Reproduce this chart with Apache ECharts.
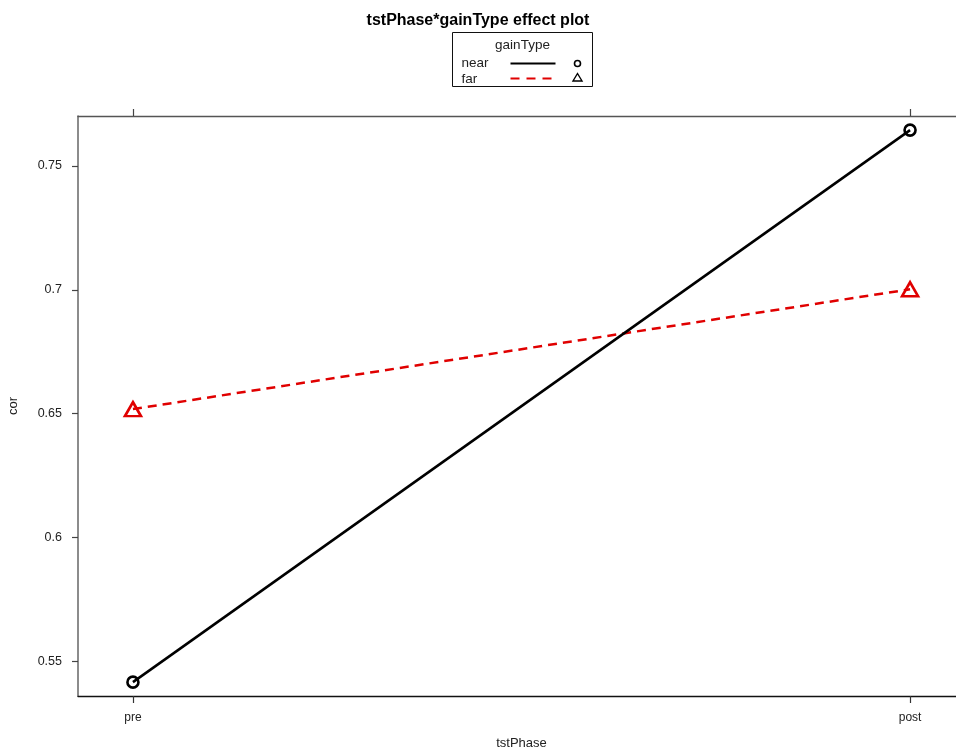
<!DOCTYPE html>
<html>
<head>
<meta charset="utf-8">
<script src="https://cdn.jsdelivr.net/npm/echarts@6/dist/echarts.min.js"></script>
<style>
  html, body { margin: 0; padding: 0; background: #fff; }
  #chart { width: 956px; height: 753px; }
</style>
</head>
<body>
<div id="chart"></div>
<script>
// Effect plot: tstPhase x gainType
const phases = ['pre', 'post'];
const gainTypes = ['near', 'far'];
const nearValues = [0.5415, 0.7645];
const farValues = [0.6518, 0.7002];
const yTicks = [0.55, 0.6, 0.65, 0.7, 0.75];

const FONT = 'Liberation Sans, Arial, Helvetica, sans-serif';
const xPos = phases.map((_, i) => i + 1);
const toPairs = vals => vals.map((v, i) => [xPos[i], v]);
const fmtY = v => String(+v.toFixed(2));

const chart = echarts.init(document.getElementById('chart'));

const xMin = 0.9293, xMax = 2.0707;

const option = {
  backgroundColor: '#fff',
  animation: false,
  title: {
    text: 'tstPhase*gainType effect plot',
    left: 'center',
    top: 8,
    textStyle: { fontFamily: FONT, fontSize: 16, fontWeight: 'bold', color: '#000' }
  },
  grid: { left: 78, right: -9, top: 116, bottom: 57, containLabel: false, outerBoundsMode: 'none' },
  xAxis: [
    {
      type: 'value',
      min: xMin, max: xMax,
      position: 'bottom',
      name: 'tstPhase',
      nameLocation: 'middle',
      nameGap: 41,
      nameTextStyle: { fontFamily: FONT, fontSize: 13, color: '#222' },
      splitLine: { show: false },
      axisLine: { show: true, lineStyle: { color: '#111', width: 1.3 } },
      axisTick: { show: true, customValues: xPos, length: 7, lineStyle: { color: '#333', width: 1.2 } },
      axisLabel: {
        customValues: xPos,
        formatter: v => phases[Math.round(v) - 1] || '',
        margin: 16,
        fontFamily: FONT, fontSize: 12, color: '#222'
      }
    },
    {
      type: 'value',
      min: xMin, max: xMax,
      position: 'top',
      splitLine: { show: false },
      axisLine: { show: true, lineStyle: { color: '#555', width: 1.3 } },
      axisTick: { show: true, customValues: xPos, length: 7, lineStyle: { color: '#444', width: 1.2 } },
      axisLabel: { show: false }
    }
  ],
  yAxis: {
    type: 'value',
    min: 0.5359, max: 0.7702,
    name: 'cor',
    nameLocation: 'middle',
    nameGap: 58,
    nameRotate: 90,
    nameTextStyle: { fontFamily: FONT, fontSize: 13, color: '#222' },
    splitLine: { show: false },
    axisLine: { show: true, lineStyle: { color: '#666', width: 1.5 } },
    axisTick: { show: true, customValues: yTicks, length: 6, lineStyle: { color: '#444', width: 1.2 } },
    axisLabel: {
      customValues: yTicks,
      formatter: fmtY,
      margin: 16,
      fontFamily: FONT, fontSize: 12.5, color: '#222'
    }
  },
  series: [
    {
      name: gainTypes[0],
      type: 'line',
      data: toPairs(nearValues),
      symbol: 'circle',
      symbolSize: 11,
      lineStyle: { color: '#000', width: 2.5 },
      itemStyle: { color: 'rgba(0,0,0,0)', borderColor: '#000', borderWidth: 2.6 },
      z: 3
    },
    {
      name: gainTypes[1],
      type: 'line',
      data: toPairs(farValues),
      symbol: 'triangle',
      symbolSize: [16, 14],
      lineStyle: { color: '#e00000', width: 2.5, type: [9, 6] },
      itemStyle: { color: 'rgba(0,0,0,0)', borderColor: '#e00000', borderWidth: 2.6 },
      z: 2
    }
  ],
  graphic: [
    {
      type: 'group',
      left: 452,
      top: 32,
      children: [
        { type: 'rect', shape: { x: 0, y: 0, width: 140, height: 54 },
          style: { fill: '#fff', stroke: '#111', lineWidth: 1 } },
        { type: 'text', x: 70, y: 6,
          style: { text: 'gainType', fontFamily: FONT, fontSize: 13.5, fill: '#222', align: 'center' } },
        { type: 'text', x: 9, y: 24,
          style: { text: gainTypes[0], fontFamily: FONT, fontSize: 13.5, fill: '#222' } },
        { type: 'line', shape: { x1: 58, y1: 31, x2: 103, y2: 31 },
          style: { stroke: '#000', lineWidth: 2 } },
        { type: 'circle', shape: { cx: 125, cy: 31, r: 3 },
          style: { fill: 'none', stroke: '#000', lineWidth: 1.6 } },
        { type: 'text', x: 9, y: 39.5,
          style: { text: gainTypes[1], fontFamily: FONT, fontSize: 13.5, fill: '#222' } },
        { type: 'line', shape: { x1: 58, y1: 46, x2: 103, y2: 46 },
          style: { stroke: '#e00000', lineWidth: 2, lineDash: [9, 7] } },
        { type: 'polygon', shape: { points: [[125, 41], [129.5, 48.5], [120.5, 48.5]] },
          style: { fill: 'none', stroke: '#000', lineWidth: 1.4 } }
      ]
    }
  ]
};

chart.setOption(option);
</script>
</body>
</html>
